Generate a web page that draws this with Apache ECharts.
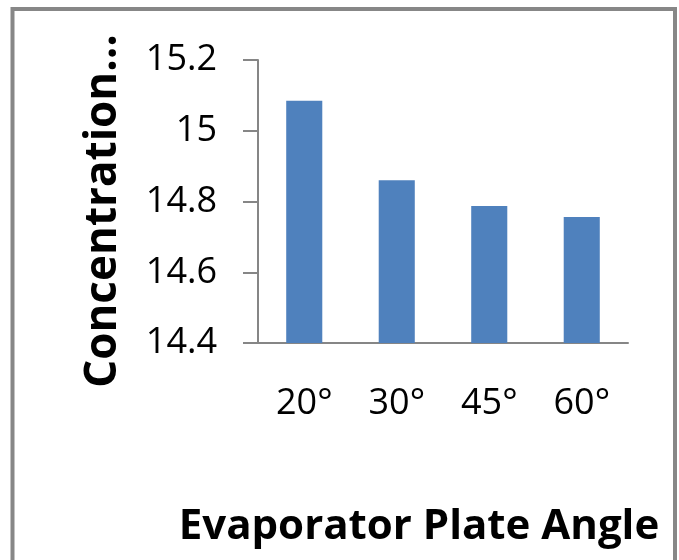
<!DOCTYPE html>
<html>
<head>
<meta charset="utf-8">
<script src="https://cdn.jsdelivr.net/npm/echarts@6/dist/echarts.min.js"></script>
<style>
html,body{margin:0;padding:0;background:#fff;}
#chart{width:679px;height:560px;}
</style>
</head>
<body>
<div id="chart"></div>
<script>
var categories = ['20°', '30°', '45°', '60°'];
var values = [15.085, 14.86, 14.787, 14.756];
var yTicks = [14.4, 14.6, 14.8, 15.0, 15.2];
var xTitle = 'Evaporator Plate Angle';
var yTitle = 'Concentration…';

var chart = echarts.init(document.getElementById('chart'), null, {renderer: 'canvas'});
var FONT = '"Open Sans", "Liberation Sans", sans-serif';
chart.setOption({
  animation: false,
  backgroundColor: '#ffffff',
  grid: {left: 258, right: 51, top: 60, bottom: 217, containLabel: false},
  xAxis: {
    type: 'category',
    data: categories,
    axisLine: {show: true, lineStyle: {color: '#868686', width: 2}},
    axisTick: {show: false},
    axisLabel: {color: '#000', fontFamily: FONT, fontSize: 36, margin: 43}
  },
  yAxis: {
    type: 'value',
    min: yTicks[0],
    max: yTicks[yTicks.length - 1],
    interval: 0.2,
    splitLine: {show: false},
    axisLine: {show: true, lineStyle: {color: '#868686', width: 2}},
    axisTick: {show: true, length: 15, lineStyle: {color: '#868686', width: 2}},
    axisLabel: {
      color: '#000', fontFamily: FONT, fontSize: 36, margin: 41,
      formatter: function (v) { return String(Math.round(v * 10) / 10); }
    }
  },
  series: [{
    type: 'bar',
    data: values,
    barWidth: '39%',
    itemStyle: {color: '#4F81BD'}
  }],
  graphic: [
    {
      type: 'rect',
      shape: {x: 12.5, y: 9, width: 662.5, height: 580},
      style: {fill: 'none', stroke: '#878787', lineWidth: 4},
      silent: true
    },
    {
      type: 'text',
      x: 419, y: 527,
      style: {text: xTitle, fill: '#000', font: 'bold 42px ' + FONT, align: 'center', verticalAlign: 'middle'}
    },
    {
      type: 'text',
      x: 103, y: 211,
      rotation: Math.PI / 2,
      style: {text: yTitle, fill: '#000', font: 'bold 44px ' + FONT, align: 'center', verticalAlign: 'middle'}
    }
  ]
});
</script>
</body>
</html>
